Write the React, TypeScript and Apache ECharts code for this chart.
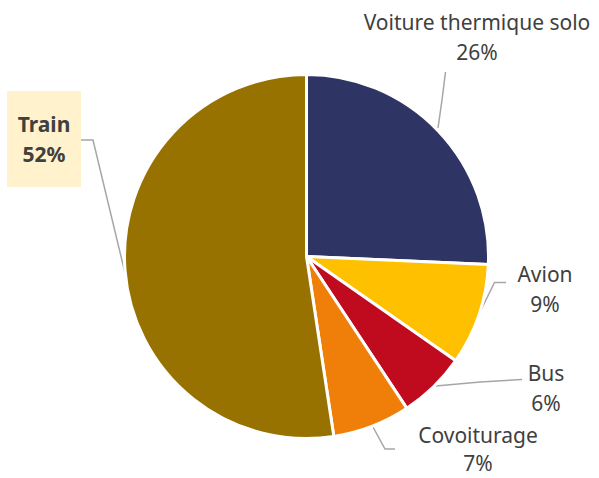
import React, { useEffect, useRef } from "react";
import * as echarts from "echarts";

const categories = ["Voiture thermique solo", "Avion", "Bus", "Covoiturage", "Train"];
const values = [25.7, 9.0, 6.0, 6.9, 52.4];
const colors = ["#2E3464", "#FFC000", "#C00A1E", "#F07F09", "#987200"];

// label placement (centers) and leader lines
const labelPos: [number, number][] = [
  [477, 37],
  [545, 289],
  [546, 388],
  [478, 449],
  [44, 139],
];
const leaderLines: [number, number][][] = [
  [[438, 128], [442, 100], [445.5, 72]],
  [[480, 312], [494.5, 282.5], [506, 282.5]],
  [[436, 386], [480, 382], [522, 379.5]],
  [[373, 427], [385, 449], [395, 449]],
  [[125, 273], [93, 140], [81, 140]],
];

export default function App() {
  const ref = useRef<HTMLDivElement>(null);
  useEffect(() => {
    if (!ref.current) return;
    const chart = echarts.init(ref.current, null, { renderer: "svg" });
    chart.setOption({
      animation: false,
      backgroundColor: "#ffffff",
      series: [
        {
          type: "pie",
          center: [306.5, 256.5],
          radius: 182,
          startAngle: 90,
          clockwise: true,
          itemStyle: { borderColor: "#ffffff", borderWidth: 3 },
          label: {
            show: true,
            formatter: (p: any) => `${p.name}\n${Math.round(p.value)}%`,
            fontFamily: "Noto Sans",
            fontSize: 21,
            lineHeight: 30,
            color: "#404040",
            overflow: "none",
          },
          labelLine: {
            show: true,
            lineStyle: { color: "#A6A6A6", width: 1.5 },
          },
          labelLayout: (params: any) => {
            const i = params.dataIndex;
            return {
              x: labelPos[i][0],
              y: labelPos[i][1],
              align: "center",
              verticalAlign: "middle",
              labelLinePoints: leaderLines[i],
            };
          },
          data: categories.map((name, i) => ({
            name,
            value: values[i],
            itemStyle: { color: colors[i] },
            label:
              name === "Train"
                ? {
                    fontWeight: "bold",
                    backgroundColor: "#FFF2CC",
                    width: 50,
                    align: "center",
                    padding: [18, 12, 18, 12],
                  }
                : name === "Covoiturage"
                ? { lineHeight: 28 }
                : undefined,
          })),
        },
      ],
    });
    return () => chart.dispose();
  }, []);
  return (
    <div
      ref={ref}
      style={{ position: "fixed", left: 0, top: 0, width: 599, height: 478 }}
    />
  );
}
